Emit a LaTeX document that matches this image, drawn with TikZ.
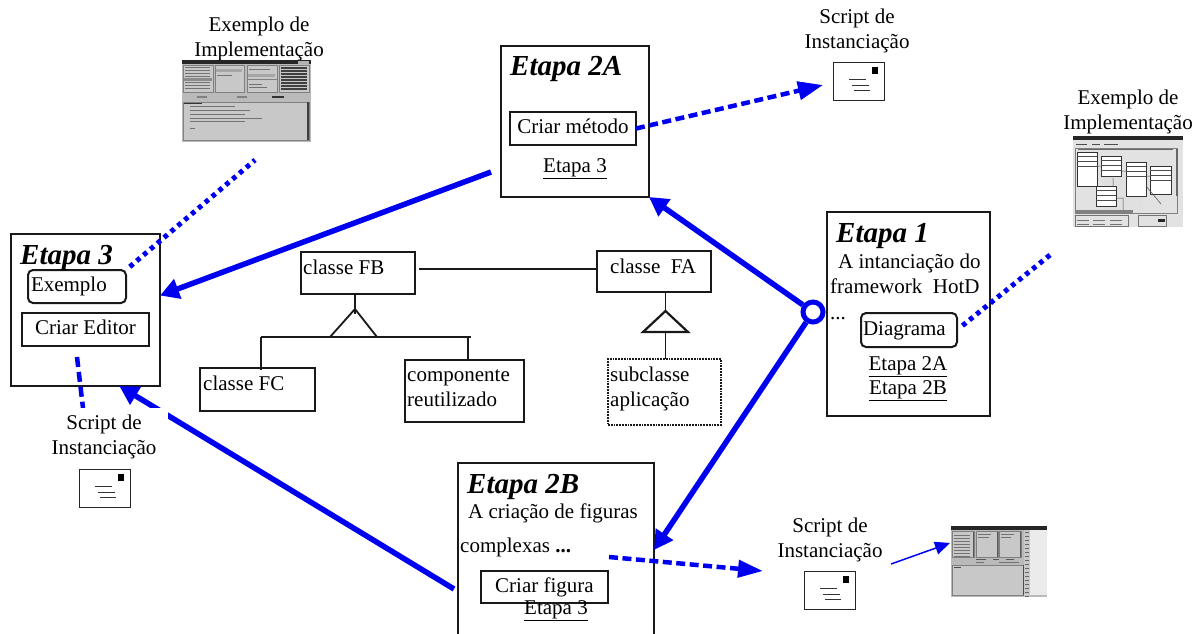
\documentclass[tikz,border=0pt]{standalone}
\usepackage{fontspec}
\setmainfont{Liberation Serif}
\usetikzlibrary{arrows.meta,positioning,calc}
\definecolor{azul}{RGB}{0,0,240}
\definecolor{cinza}{RGB}{186,186,186}
\definecolor{claro}{RGB}{200,200,200}
\definecolor{palido}{RGB}{226,226,226}
\tikzset{
  etapa/.style={draw=black!90, line width=2.4pt, inner sep=0pt, outer sep=0pt},
  classe/.style={draw=black!90, line width=1.8pt, inner sep=0pt, outer sep=0pt},
  interno/.style={classe, line width=2pt, font=\fontsize{21}{25}\selectfont, text height=14.5pt, text depth=4pt},
  redondo/.style={interno, rounded corners=5pt, text width=92pt, align=left},
  titulo/.style={inner sep=0pt, anchor=base west, font=\fontsize{29}{32}\selectfont\bfseries\itshape},
  rotulo/.style={inner sep=0pt, anchor=base west, font=\fontsize{21}{25.5}\selectfont, align=left},
  centro/.style={inner sep=0pt, anchor=base, font=\fontsize{21}{25}\selectfont, align=center},
  forte/.style={azul, line width=5.5pt, -{Triangle[length=19pt,width=20pt]}},
  tracado/.style={azul, line width=4.5pt, dash pattern=on 9pt off 4.5pt},
  pontos/.style={azul, line width=5pt, dash pattern=on 4.5pt off 4.5pt},
  linha/.style={black!90, line width=1.8pt},
  barra/.style={black!55, line width=.5pt},
}
% envelope of a script, from its top left corner
\newcommand{\envelope}[3]{
  \node[draw=black!85, line width=1.3pt, minimum width=51pt, minimum height=38pt, inner sep=0pt, anchor=north west] (#1) at (#2,#3) {};
  \fill[black] ($(#1.north west)+(39,-5)$) rectangle ++(6,-7);
  \draw[black!80, line width=1pt] ($(#1.north west)+(16,-17)$) -- ++(17,0);
  \draw[black!80, line width=1pt] ($(#1.north west)+(19,-23)$) -- ++(17,0);
  \draw[black!80, line width=1pt] ($(#1.north west)+(21,-28)$) -- ++(16,0);
}
\begin{document}
\begin{tikzpicture}[x=1pt,y=1pt]
\useasboundingbox (0,0) rectangle (1201,-633);
\clip (0,0) rectangle (1201,-633);

% stages
\node[etapa, minimum width=149pt, minimum height=152pt] (etapa3) at (85.5,-310) {};
\node[etapa, minimum width=148pt, minimum height=151pt] (etapa2a) at (575,-121.5) {};
\node[etapa, minimum width=163pt, minimum height=204pt] (etapa1) at (908.5,-314) {};
\node[etapa, minimum width=196pt, minimum height=174pt] (etapa2b) at (556,-550) {};

\node[redondo, minimum width=98pt, minimum height=33pt] (exemplo) at (77,-286.5) {Exemplo};
\node[interno, minimum width=127pt, minimum height=33pt] (editor) at (85.5,-329.5) {Criar Editor};
\node[interno, minimum width=126pt, minimum height=33pt] (metodo) at (573,-128.5) {Criar método};
\node[redondo, minimum width=96pt, minimum height=34pt] (diagrama) at (909,-330) {Diagrama};
\node[interno, minimum width=127pt, minimum height=32pt] (figura) at (544.5,-587) {Criar figura};

\node[titulo] (t3) at (20,-264) {Etapa 3};
\node[titulo] (t2a) at (510,-75) {Etapa 2A};
\node[titulo] (t1) at (836,-242) {Etapa 1};
\node[titulo] (t2b) at (467,-493) {Etapa 2B};

\node[rotulo] (txt1) at (838,-268) {A intanciação do};
\node[rotulo] (txt2) at (830,-293) {framework~~HotD};
\node[rotulo] (txt3) at (830,-319) {...};
\node[rotulo] (txt4) at (468,-518) {A criação de figuras};
\node[rotulo] (txt5) at (460,-552) {complexas~\textbf{...}};
\node[centro] (lk1) at (575,-172) {\underline{Etapa 3}};
\node[centro] (lk2) at (908,-370) {\underline{Etapa 2A}};
\node[centro] (lk3) at (908,-394) {\underline{Etapa 2B}};
\node[centro] (lk4) at (556,-614) {\underline{Etapa 3}};

% classes
\node[classe, minimum width=114pt, minimum height=42pt] (fb) at (358,-273) {};
\node[classe, minimum width=114pt, minimum height=41pt] (fa) at (654,-271.5) {};
\node[classe, minimum width=115pt, minimum height=43pt] (fc) at (257.5,-389.5) {};
\node[classe, minimum width=119pt, minimum height=62pt] (comp) at (464.5,-391) {};
\node[classe, densely dotted, minimum width=113pt, minimum height=66pt] (sub) at (664.5,-392) {};
\node[rotulo] (tfb) at (303,-274) {classe FB};
\node[rotulo] (tfa) at (610,-273) {classe~~FA};
\node[rotulo] (tfc) at (203,-390) {classe FC};
\node[rotulo] (tcomp) at (407,-406.5) {componente\\reutilizado};
\node[rotulo] (tsub) at (610,-406.5) {subclasse\\aplicação};

\coordinate (topob) at (355,-309);
\coordinate (topoa) at (665.5,-311);
\coordinate (basea) at (665.5,-332);
\coordinate (esq) at (261,-337);
\coordinate (dir) at (471,-337);
\draw[linha] (419,-269) -- (fa.west |- 0,-269);
\draw[linha] (355,-294) -- (355,-314);
\draw[linha] (330,-337) -- (topob) -- (377,-337);
\draw[linha] (esq) -- (dir);
\draw[linha] (esq) -- (261,-370);
\draw[linha] (468,-337) -- (468,-360);
\draw[linha] (fa.south -| topoa) -- (topoa);
\draw[linha, line width=2.2pt] (topoa) -- (643,-332) -- (688,-332) -- cycle;
\draw[linha] (basea) -- (sub.north -| basea);

% connectors
\node[draw=azul, line width=5pt, circle, minimum size=20pt, inner sep=0pt] (no) at (813,-312) {};
\coordinate (saida2a) at (491,-172);
\coordinate (saida2b) at (454,-589);
\draw[forte] (no) -- (etapa2a.south east);
\draw[forte] (no) -- (etapa2b.east);
\draw[forte] (saida2a) -- (etapa3.11);
\draw[forte] (saida2b) -- (etapa3.-66);

\coordinate (imgA) at (255,-160);
\coordinate (imgB) at (1050,-255);
\draw[pontos, shorten <=5pt] (exemplo.north east) -- (imgA);
\draw[pontos, shorten <=7pt] (diagrama.east) -- (imgB);

\coordinate (envA) at (823,-85);
\coordinate (iniB) at (609,-557);
\coordinate (envB) at (763,-571);
\coordinate (iniC) at (77,-357);
\coordinate (fimC) at (83,-408);
\draw[tracado, -{Triangle[length=25pt,width=18pt]}] (metodo.east) -- (envA);
\draw[tracado, -{Triangle[length=25pt,width=17pt]}] (iniB) -- (envB);
\draw[tracado, dash pattern=on 10pt off 5pt] (iniC) -- (fimC);

\coordinate (iniT) at (891,-564);
\coordinate (fimT) at (950,-543);
\draw[azul, line width=1.5pt, -{Triangle[length=15pt,width=13pt]}] (iniT) -- (fimT);

% scripts and examples
\node[fill=white, minimum width=128pt, minimum height=56pt, inner sep=0pt] (fundo) at (104,-436) {};
\node[centro] (s1) at (857,-48) {Script de\\Instanciação};
\node[centro] (s2) at (104,-454) {Script de\\Instanciação};
\node[centro] (s3) at (830,-557) {Script de\\Instanciação};
\node[centro] (e1) at (259,-56) {Exemplo de\\Implementação};
\node[centro] (e2) at (1128,-129) {Exemplo de\\Implementação};
\envelope{env1}{833}{-62}
\envelope{env2}{79}{-469}
\envelope{env3}{804}{-571}

% screen of the first example
\begin{scope}[shift={(182,-60)}]
  \fill[cinza] (0,0) rectangle (129,-82);
  \fill[black!85] (0,0) rectangle (129,-4);
  \fill[black!30] (116,-.5) rectangle (127,-3.5);
  \foreach \x/\w in {1/30, 33/29, 65/30, 97/30} {
    \draw[black!50, fill=claro, line width=.4pt] (\x,-5) rectangle ++(\w,-27);
  }
  \draw[black!50, line width=.6pt] (65,-19) -- (95,-19);
  \fill[black!45] (2,-18) rectangle (30,-21);
  \fill[black!35] (34,-9) rectangle (60,-12);
  \fill[black!35] (66,-14) rectangle (93,-17);
  \foreach \y in {-7,-10,-13,-16,-22,-25,-28} {
    \draw[barra] (3,\y) -- (28,\y);
  }
  \foreach \y in {-8,-11,-14,-17,-20,-23,-26,-29} {
    \draw[black!75, line width=1.2pt] (99,\y) -- (125,\y);
  }
  \draw[barra] (35,-15) -- (50,-15);
  \draw[barra] (67,-9) -- (88,-9);
  \draw[barra] (67,-24) -- (80,-24);
  \draw[barra] (67,-27) -- (85,-27);
  \fill[black!50] (15,-36) rectangle (25,-38);
  \fill[black!50] (55,-36) rectangle (65,-38);
  \fill[black!80] (90,-36) rectangle (102,-38);
  \draw[black!50, fill=claro, line width=.4pt] (1,-42) rectangle (127,-80);
  \fill[black!75] (125,-42) rectangle (127,-80);
  \draw[black!80, line width=.8pt] (2,-43) -- (20,-43);
  \foreach \y/\w in {-46/45, -50/60, -54/55, -58/72, -61/55, -68/5} {
    \draw[barra] (8,\y) -- ++(\w,0);
  }
\end{scope}

% screen of the second example
\begin{scope}[shift={(1073,-136)}]
  \fill[palido] (0,0) rectangle (110,-91);
  \fill[black!85] (0,0) rectangle (110,-4);
  \foreach \x/\w in {3/11, 19/8, 31/14} {
    \draw[black!70, line width=1pt] (\x,-8) -- ++(\w,0);
  }
  \draw[black!50, fill=palido, line width=.5pt] (2,-12) rectangle (104,-77);
  \fill[black!12] (30,-40) rectangle (70,-74);
  \draw[black!60, line width=.6pt] (5,-13) -- (100,-13);
  \foreach \x/\y/\w/\h in {4/-16/20/34, 28/-20/20/20, 53/-26/20/34, 77/-30/21/28, 23/-50/20/20} {
    \draw[black!80, fill=white, line width=.7pt] (\x,\y) rectangle ++(\w,-\h);
    \draw[black!70, line width=.5pt] (\x,\y-4) -- ++(\w,0);
    \draw[black!70, line width=.5pt] (\x,\y-9) -- ++(\w,0);
    \draw[black!70, line width=.5pt] (\x,\y-14) -- ++(\w,0);
  }
  \draw[black!70, line width=.5pt] (24,-30) -- (28,-30) (48,-35) -- (53,-35) (73,-40) -- (77,-40) (43,-62) -- (50,-62) -- (50,-75) (73,-50) -- (88,-68) (40,-42) -- (40,-50);
  \fill[black!60] (103,-13) rectangle (105,-60);
  \fill[black!50] (2,-74) rectangle (60,-76.5);
  \draw[black!55, line width=.5pt] (2,-79) rectangle (55,-90);
  \draw[black!55, line width=.5pt] (65,-79) rectangle (93,-90);
  \fill[black!85] (85,-83) rectangle (92,-86);
  \foreach \x in {4,20,37} {
    \draw[barra] (\x,-84) -- ++(12,0);
    \draw[barra] (\x,-88) -- ++(12,0);
  }
\end{scope}

% screen of the last step
\begin{scope}[shift={(951,-526)}]
  \fill[cinza] (0,0) rectangle (96,-71);
  \fill[white!92!black] (79,-4) rectangle (96,-69);
  \fill[black!85] (0,0) rectangle (96,-3.5);
  \fill[claro] (73,-4) rectangle (79,-71);
  \foreach \y in {-6,-10,...,-70} {
    \draw[black!60, line width=.8pt] (74,\y) -- (78,\y);
  }
  \foreach \x/\w in {1/22, 25/22, 48/22} {
    \draw[black!50, fill=claro, line width=.4pt] (\x,-5) rectangle ++(\w,-26);
    \fill[black!65] (\x+\w-1,-6) rectangle ++(1,-25);
  }
  \foreach \y in {-9,-12,...,-31} {
    \draw[barra] (3,\y) -- (19,\y);
  }
  \draw[barra] (27,-8) -- (40,-8) (27,-11) -- (38,-11) (50,-8) -- (63,-8) (50,-11) -- (60,-11);
  \draw[black!65, line width=.8pt] (25,-33) -- (35,-33) (42,-33) -- (48,-33) (55,-33) -- (63,-33);
  \draw[barra] (25,-36) -- (33,-36) (48,-36) -- (68,-36);
  \draw[black!50, fill=claro, line width=.4pt] (1,-39) rectangle (72,-69);
  \draw[black!70, line width=.8pt] (3,-41) -- (10,-41);
  \fill[black!70] (72,-39) rectangle (73,-69);
\end{scope}
\end{tikzpicture}
\end{document}
